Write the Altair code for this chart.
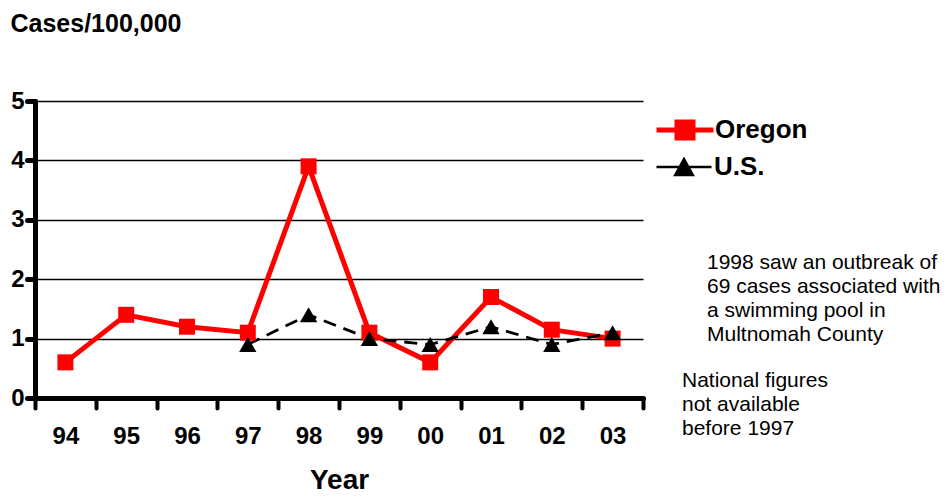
import altair as alt
import pandas as pd

years = ["94", "95", "96", "97", "98", "99", "00", "01", "02", "03"]
oregon = [0.6, 1.4, 1.2, 1.1, 3.9, 1.1, 0.6, 1.7, 1.15, 1.0]
us = [None, None, None, 0.9, 1.4, 1.0, 0.9, 1.2, 0.9, 1.1]
y_ticks = [0, 1, 2, 3, 4, 5]
note1 = ["1998 saw an outbreak of", "69 cases associated with",
         "a swimming pool in", "Multnomah County"]
note2 = ["National figures", "not available", "before 1997"]

or_df = pd.DataFrame({"year": years, "value": oregon, "series": "Oregon"})
us_df = pd.DataFrame({"year": [y for y, v in zip(years, us) if v is not None],
                      "value": [v for v in us if v is not None],
                      "series": "U.S."})

FONT = "Liberation Sans"
RED = "#ff0000"

x = alt.X("year:N", sort=years,
          scale=alt.Scale(domain=years, paddingInner=0, paddingOuter=0),
          axis=alt.Axis(title="Year", titleFontSize=28, titleFont=FONT,
                        titleFontWeight="bold", titleColor="black", titleY=68,
                        titleBaseline="top",
                        labelFont=FONT, labelFontSize=24, labelFontWeight="bold",
                        labelColor="black", labelAngle=0, labelPadding=16,
                        tickBand="extent", tickSize=10, tickWidth=4,
                        tickColor="black", tickCap="round",
                        domainColor="black", domainWidth=5, domainCap="round",
                        grid=False))
y = alt.Y("value:Q", scale=alt.Scale(domain=[0, 5], nice=False),
          axis=alt.Axis(title="Cases/100,000", titleAngle=0, titleAlign="left",
                        titleBaseline="top", titleX=-25, titleY=-90,
                        titleFont=FONT, titleFontSize=25, titleFontWeight="bold",
                        titleColor="black",
                        values=y_ticks, labelFont=FONT, labelFontSize=24,
                        labelFontWeight="bold", labelColor="black",
                        labelPadding=3, tickSize=8, tickWidth=5,
                        tickColor="black", tickCap="round",
                        domainColor="black", domainWidth=5, domainCap="round",
                        grid=True, gridColor="black", gridWidth=1.5))

or_line = alt.Chart(or_df).mark_line(color=RED, strokeWidth=5).encode(x=x, y=y)
us_line = alt.Chart(us_df).mark_line(color="black", strokeWidth=2.8,
                                     strokeDash=[13, 8]).encode(x=x, y=y)
or_pts = alt.Chart(or_df).mark_point(shape="square", filled=True, size=256,
                                     color=RED, opacity=1).encode(x=x, y=y)
us_pts = alt.Chart(us_df).mark_point(shape="triangle-up", filled=True, size=300,
                                     color="black", opacity=1).encode(x=x, y=y)

common_legend = dict(orient="none", title=None, padding=0,
                     labelFont=FONT, labelFontSize=26, labelFontWeight="bold",
                     labelColor="black", symbolSize=256, symbolOpacity=1)

leg_or = alt.Chart(or_df).mark_point(filled=True, opacity=0).encode(
    x=x, y=y,
    fill=alt.Fill("series:N", scale=alt.Scale(domain=["Oregon"], range=[RED]),
                  legend=alt.Legend(legendX=637, legendY=16, labelOffset=17,
                                    symbolType="M-3.56,0H3.56M-1,-1H1V1H-1Z",
                                    symbolStrokeColor=RED, symbolStrokeWidth=5,
                                    **common_legend)))
leg_us = alt.Chart(us_df).mark_point(filled=True, opacity=0, fill="black").encode(
    x=x, y=y,
    stroke=alt.Stroke("series:N", scale=alt.Scale(domain=["U.S."], range=["black"]),
                      legend=alt.Legend(legendX=636, legendY=53, labelOffset=17,
                                        symbolType="M-3.44,0H3.44M-1.1,1L0,-1L1.1,1Z",
                                        symbolFillColor="black", symbolStrokeWidth=2.5,
                                        **common_legend)))

ann_df = pd.DataFrame({"k": [0]})
ann1 = alt.Chart(ann_df).mark_text(
    align="left", baseline="top", font=FONT, fontSize=21, lineHeight=24,
    color="black").encode(x=alt.value(672), y=alt.value(151), text=alt.value(note1))
ann2 = alt.Chart(ann_df).mark_text(
    align="left", baseline="top", font=FONT, fontSize=21, lineHeight=24,
    color="black").encode(x=alt.value(647), y=alt.value(269), text=alt.value(note2))

chart = alt.layer(or_line, us_line, or_pts, us_pts, leg_or, leg_us, ann1, ann2).properties(
    width=608, height=297,
    autosize=alt.AutoSizeParams(type="none"),
    padding={"left": 27, "top": 93, "right": 300, "bottom": 98},
    background="white",
).resolve_scale(fill="independent", stroke="independent").configure_view(stroke=None)

chart.save("out.html", embed_options={"renderer": "svg", "actions": False})
